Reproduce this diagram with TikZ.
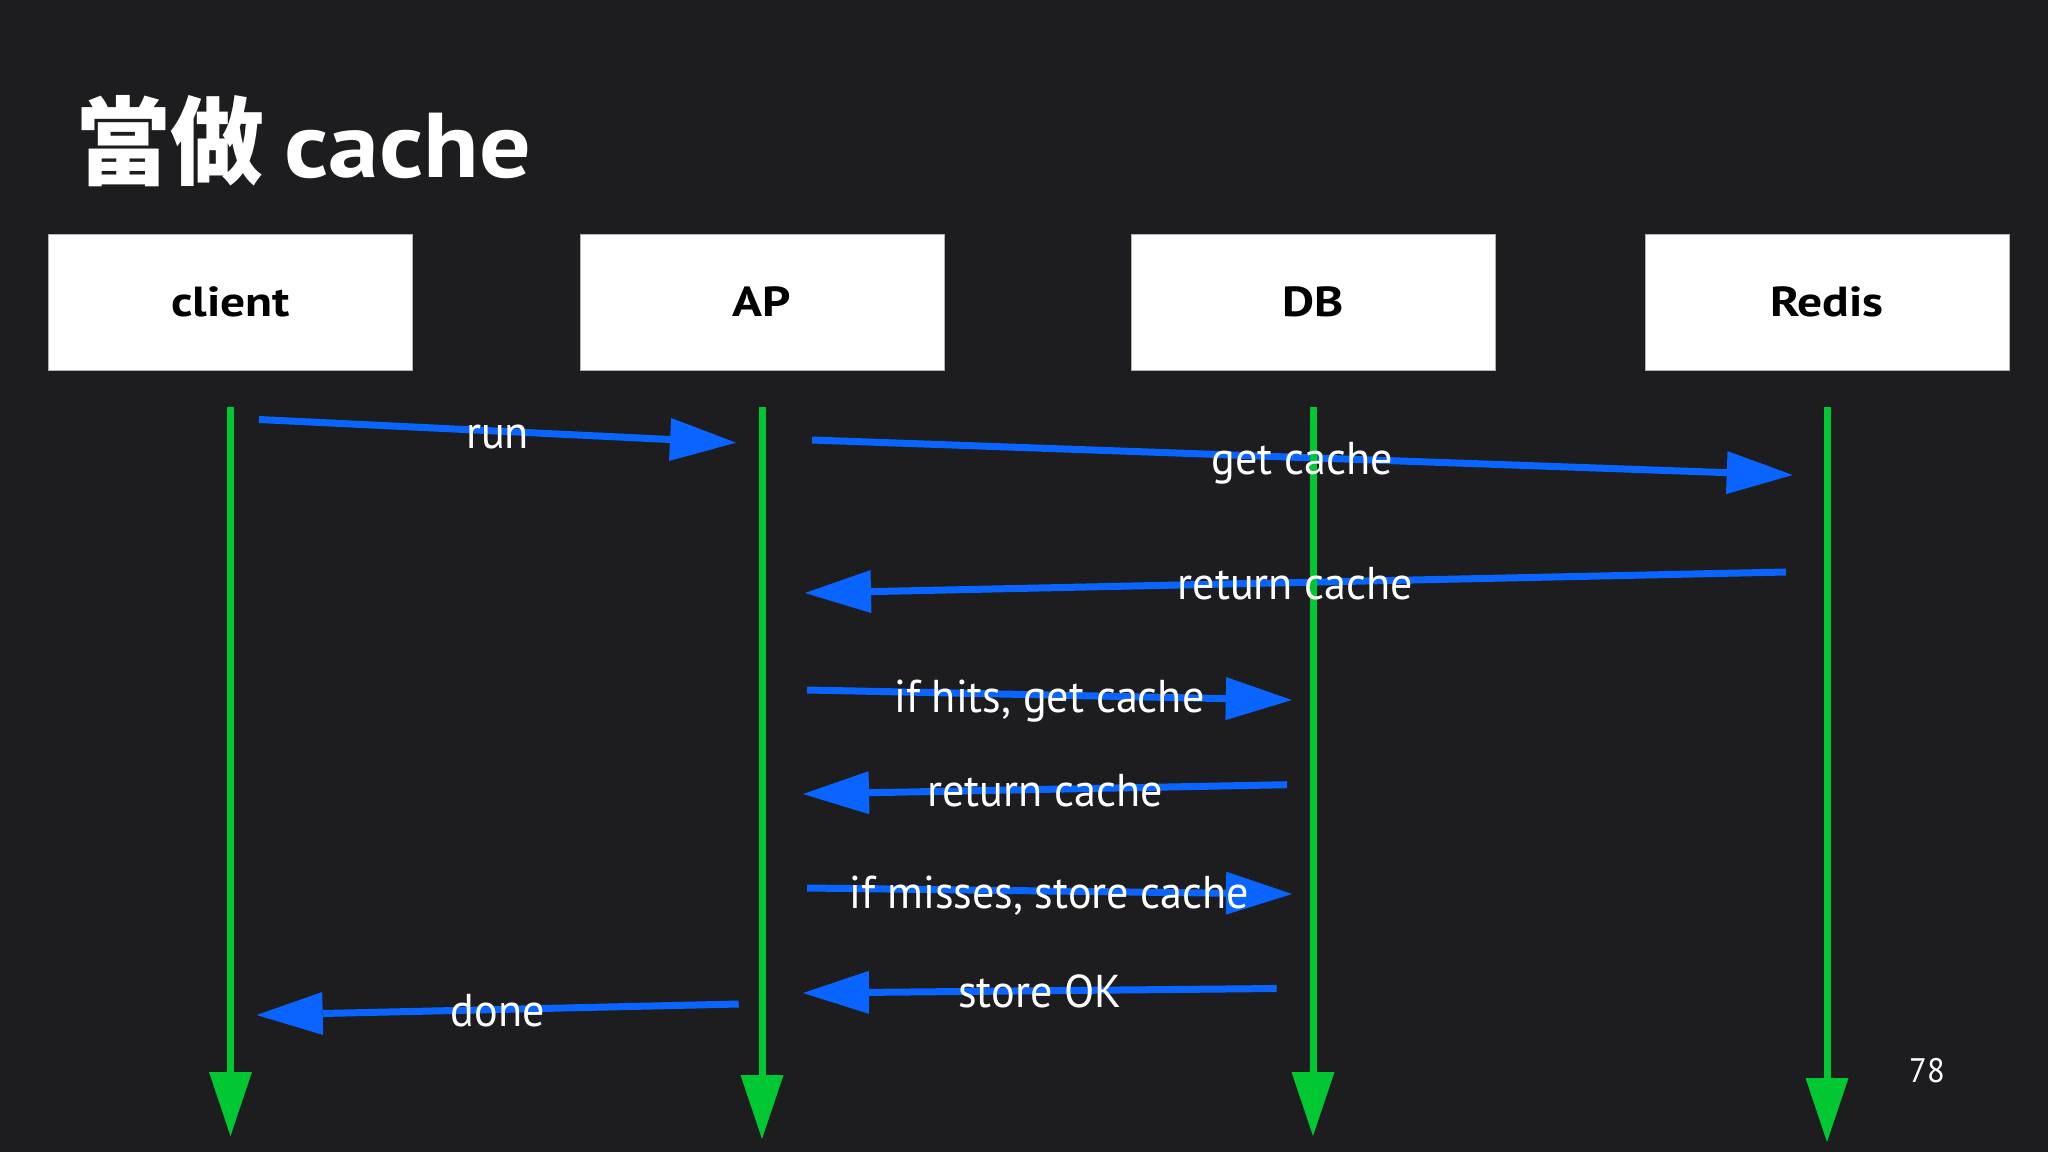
\documentclass[tikz,border=0pt]{standalone}
\usepackage{fontspec}
\setmainfont{PT Sans}[FakeStretch=0.96]
\newfontfamily\boxfont{PT Sans}[FakeStretch=1.18]
\newfontfamily\titlefont{PT Sans}[FakeStretch=1.11]
\newfontfamily\cjk{Noto Sans CJK TC}[FakeStretch=0.98]
\usetikzlibrary{arrows.meta,calc}
\definecolor{bg}{RGB}{29,29,31}
\definecolor{lifegreen}{RGB}{0,200,50}
\definecolor{msgblue}{RGB}{10,100,255}
\begin{document}
\begin{tikzpicture}[x=1pt,y=-1pt,
  actor/.style={draw=gray!60, line width=1pt, fill=white, minimum width=364pt,
    minimum height=136pt, inner sep=0pt, text=black,
    font=\fontsize{42}{50}\selectfont\boxfont\bfseries, text height=28pt, text depth=0pt},
  life/.style={draw=lifegreen, line width=7pt,
    -{Triangle[length=64pt,width=43pt,line width=0pt]}},
  msg/.style={draw=msgblue, line width=7pt,
    -{Triangle[length=66pt,width=43pt,line width=0pt]}},
  lbl/.style={text=white, font=\fontsize{46}{52}\selectfont, inner sep=0pt,
    anchor=base, yshift=-17pt}
]
\fill[bg] (0,0) rectangle (2048,1152);
\useasboundingbox (0,0) rectangle (2048,1152);

% title
\node[anchor=base west, inner sep=0pt, text=white] (title) at (76,177.5)
  {{\fontsize{96}{100}\selectfont\cjk\bfseries 當做}\hspace{20pt}{\fontsize{92}{100}\selectfont\titlefont\bfseries cache}};

% actors
\node[actor] (client) at (230.5,302) {client};
\node[actor] (ap) at (762,302) {AP};
\node[actor] (db) at (1313,302) {DB};
\node[actor] (redis) at (1827,302) {Redis};

% lifeline ends
\coordinate (clientT) at (230.5,406.7);
\coordinate (clientB) at (230.5,1136);
\coordinate (apT) at (762,406.7);
\coordinate (apB) at (762,1139);
\coordinate (dbT) at (1313,406.7);
\coordinate (dbB) at (1313,1136);
\coordinate (redisT) at (1827,406.7);
\coordinate (redisB) at (1827,1142);

% message ends
\coordinate (m1s) at (259,419.5);   \coordinate (m1e) at (736,442.7);
\coordinate (m2s) at (812,440);     \coordinate (m2e) at (1792.7,475);
\coordinate (m3s) at (1786,572);    \coordinate (m3e) at (805,593);
\coordinate (m4s) at (807,690);     \coordinate (m4e) at (1291.8,700);
\coordinate (m5s) at (1287,784.7);  \coordinate (m5e) at (803,794);
\coordinate (m6s) at (807,888);     \coordinate (m6e) at (1292,894);
\coordinate (m7s) at (1276.7,988.5);\coordinate (m7e) at (803,993);
\coordinate (m8s) at (738.7,1004);  \coordinate (m8e) at (256.7,1015);

% messages
\foreach \i in {1,...,8} { \draw[msg] (m\i s) -- (m\i e); }

% lifelines
\draw[life] (clientT) -- (clientB);
\draw[life] (apT) -- (apB);
\draw[life] (dbT) -- (dbB);
\draw[life] (redisT) -- (redisB);

% labels
\node[lbl] (l1) at ($(m1s)!0.5!(m1e)$) {run};
\node[lbl] (l2) at ($(m2s)!0.5!(m2e)$) {get cache};
\node[lbl] (l3) at ($(m3s)!0.5!(m3e)$) {return cache};
\node[lbl] (l4) at ($(m4s)!0.5!(m4e)$) {if hits, get cache};
\node[lbl] (l5) at ($(m5s)!0.5!(m5e)$) {return cache};
\node[lbl] (l6) at ($(m6s)!0.5!(m6e)$) {if misses, store cache};
\node[lbl] (l7) at ($(m7s)!0.5!(m7e)$) {store OK};
\node[lbl] (l8) at ($(m8s)!0.5!(m8e)$) {done};

% page number
\node[text=white, inner sep=0pt, font=\fontsize{34}{40}\selectfont] (page) at (1927,1071) {78};
\end{tikzpicture}
\end{document}
